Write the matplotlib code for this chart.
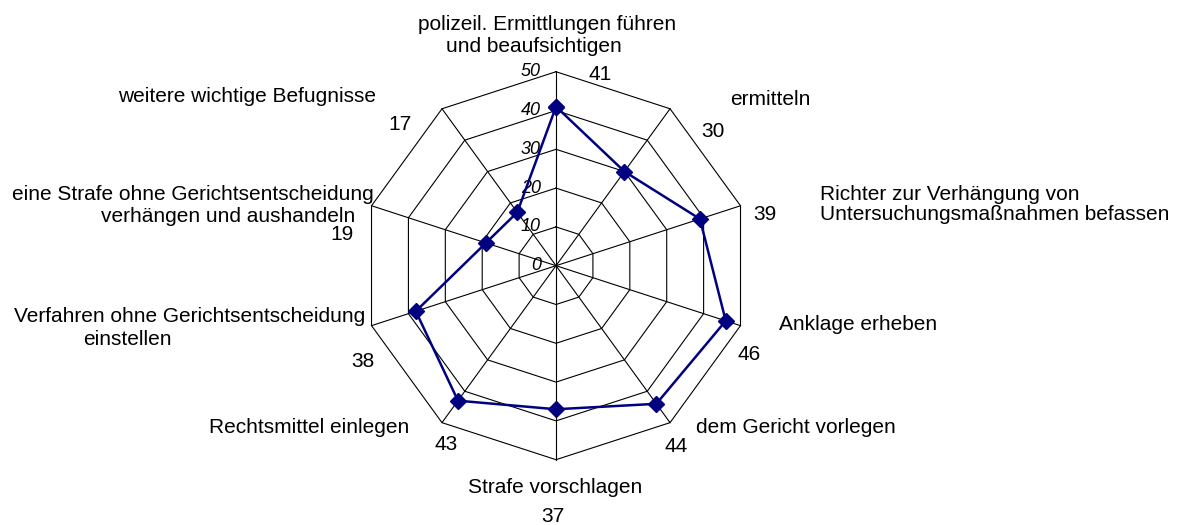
import numpy as np
import matplotlib
matplotlib.use("Agg")
import matplotlib.pyplot as plt

plt.rcParams["font.family"] = ["Liberation Sans", "DejaVu Sans"]

# Data: one value per competence, clockwise from the top
categories = [
    "polizeil. Ermittlungen führen\nund beaufsichtigen",
    "ermitteln",
    "Richter zur Verhängung von\nUntersuchungsmaßnahmen befassen",
    "Anklage erheben",
    "dem Gericht vorlegen",
    "Strafe vorschlagen",
    "Rechtsmittel einlegen",
    "Verfahren ohne Gerichtsentscheidung\neinstellen",
    "eine Strafe ohne Gerichtsentscheidung\nverhängen und aushandeln",
    "weitere wichtige Befugnisse",
]
values = [41, 30, 39, 46, 44, 37, 43, 38, 19, 17]
levels = [0, 10, 20, 30, 40, 50]

# Label placement (pixel offsets from the outer vertex of each spoke):
# one (dx, dy, ha) entry per text line of the category name, then the value label
name_layout = [
    [(-9, 47, "center"), (-22, 25, "center")],
    [(100, 9, "center")],
    [(79, 11, "left"), (79, -9, "left")],
    [(118, 1, "center")],
    [(126, -5, "center")],
    [(-1, -28, "center")],
    [(-133, -5, "center")],
    [(-182, 9, "center"), (-244, -14, "center")],
    [(-179, 11, "center"), (-143, -11, "center")],
    [(-195, 12, "center")],
]
value_layout = [
    (44, -3), (43, -23), (24, -9), (9, -29), (6, -24),
    (-3, -57), (4, -22), (-9, -36), (-30, -29), (-42, -16),
]

navy = "#000080"
n = len(categories)
theta = np.arange(n) * 2 * np.pi / n
theta_closed = np.append(theta, theta[0])

fig = plt.figure(figsize=(11.78, 5.25), dpi=100)
ax = fig.add_axes([0.3073, 0.1244, 0.3294, 0.739], projection="polar")
ax.set_theta_zero_location("N")
ax.set_theta_direction(-1)
ax.set_ylim(0, levels[-1])
ax.grid(False)
ax.spines["polar"].set_visible(False)
ax.set_xticks([])
ax.set_yticks([])
ax.patch.set_visible(False)

# Decagonal grid rings and spokes
for lv in levels[1:]:
    ax.plot(theta_closed, [lv] * (n + 1), color="black", lw=0.8, clip_on=False, zorder=1)
for t in theta:
    ax.plot([t, t], [0, levels[-1]], color="black", lw=0.8, clip_on=False, zorder=1)

# Radial scale labels along the top spoke
for lv in levels:
    ax.annotate(str(lv), xy=(0, lv), xytext=(-15, 0), textcoords="offset pixels",
                ha="right", va="center", fontsize=13, style="italic", annotation_clip=False)

# Data series
vals_closed = values + values[:1]
ax.plot(theta_closed, vals_closed, color=navy, lw=1.8, marker="D", markersize=8,
        markerfacecolor=navy, markeredgecolor=navy, clip_on=False, zorder=3)

# Category names and value labels
for i, name in enumerate(categories):
    lines = name.split("\n")
    for line, (dx, dy, ha) in zip(lines, name_layout[i]):
        ax.annotate(line, xy=(theta[i], levels[-1]), xytext=(dx, dy),
                    textcoords="offset pixels", ha=ha, va="center",
                    fontsize=15, annotation_clip=False)
    dx, dy = value_layout[i]
    ax.annotate(str(values[i]), xy=(theta[i], levels[-1]), xytext=(dx, dy),
                textcoords="offset pixels", ha="center", va="center",
                fontsize=15, annotation_clip=False)

fig.savefig("out.png", dpi=100, facecolor="white")
